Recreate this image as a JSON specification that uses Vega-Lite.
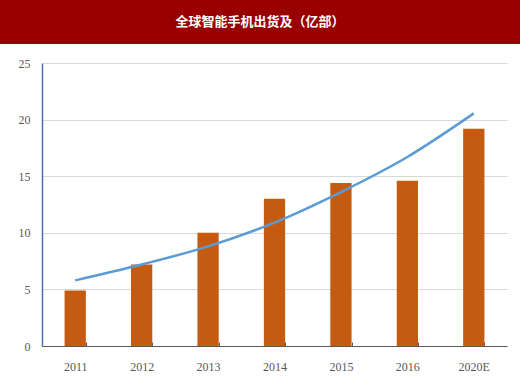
{
  "$schema": "https://vega.github.io/schema/vega-lite/v6.json",
  "padding": 0,
  "background": "white",
  "spacing": 13,
  "config": {"view": {"stroke": null}},
  "vconcat": [
    {
      "width": 520,
      "height": 44,
      "view": {"fill": "#990000", "stroke": null},
      "data": {"values": [{"title": "全球智能手机出货及（亿部）"}]},
      "mark": {"type": "text", "color": "white", "font": "Noto Sans CJK SC", "fontSize": 13, "fontWeight": "bold", "align": "center", "baseline": "middle"},
      "encoding": {"text": {"field": "title"}}
    },
    {
      "width": 520,
      "height": 283,
      "data": {"values": [
        {"year": "2011", "shipments": 4.9, "trend": 5.8},
        {"year": "2012", "shipments": 7.2, "trend": 7.2},
        {"year": "2013", "shipments": 10.0, "trend": 8.8},
        {"year": "2014", "shipments": 13.0, "trend": 10.9},
        {"year": "2015", "shipments": 14.4, "trend": 13.6},
        {"year": "2016", "shipments": 14.6, "trend": 16.7},
        {"year": "2020E", "shipments": 19.2, "trend": 20.55}
      ]},
      "encoding": {
        "x": {"field": "year", "type": "nominal", "sort": null,
          "scale": {"range": [42, 507], "paddingInner": 0.68, "paddingOuter": 0.34},
          "axis": {"title": null, "labelAngle": 0, "domainColor": "#595959", "tickColor": "#595959", "tickBand": "extent", "tickSize": -4, "labelPadding": 19, "labelFont": "Liberation Serif", "labelFontSize": 12, "labelColor": "#595959", "grid": false}}
      },
      "layer": [
        {
          "mark": {"type": "bar", "color": "#C55A11"},
          "encoding": {
            "y": {"field": "shipments", "type": "quantitative",
              "scale": {"domain": [0, 25], "nice": false},
              "axis": {"title": null, "offset": -42, "values": [0, 5, 10, 15, 20, 25], "ticks": false, "labelPadding": 12, "domainColor": "#4a6fb5", "domainWidth": 1.5, "gridColor": "#D9D9D9", "labelFont": "Liberation Serif", "labelFontSize": 12, "labelColor": "#595959"}}
          }
        },
        {
          "mark": {"type": "line", "color": "#5B9BD5", "strokeWidth": 2.5, "interpolate": "monotone"},
          "encoding": {
            "y": {"field": "trend", "type": "quantitative"}
          }
        }
      ]
    }
  ]
}
